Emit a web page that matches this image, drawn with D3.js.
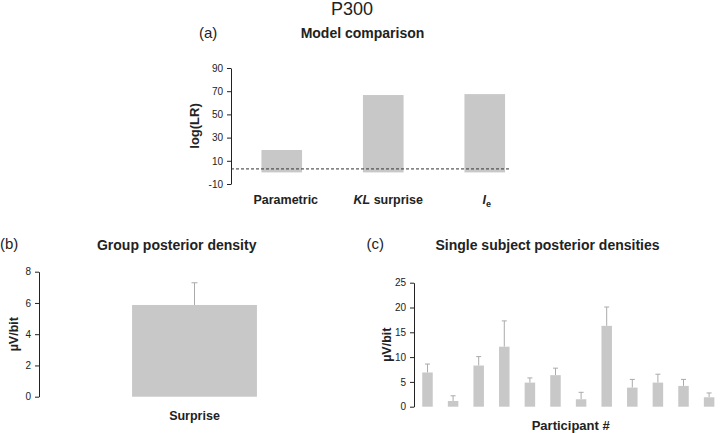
<!DOCTYPE html>
<html>
<head>
<meta charset="utf-8">
<script src="https://cdn.jsdelivr.net/npm/d3@7"></script>
<style>
  html, body { margin: 0; padding: 0; background: #fff; }
  svg { display: block; font-family: "Liberation Sans", Arial, sans-serif; }
  .tick text { font-size: 10px; fill: #222; }
  .domain, .tick line { stroke: #222; }
</style>
</head>
<body>
<svg id="chart" width="720" height="433"></svg>
<script>
// ---- data ----
const modelCategories = ["Parametric", "KL surprise", "Ie"];
const modelLogLR = [19.3, 66.7, 67.5];
const modelThreshold = 3;
const modelTicks = [-10, 10, 30, 50, 70, 90];

const groupCategories = ["Surprise"];
const groupMean = [5.87];
const groupErrTop = [7.29];
const groupTicks = [0, 2, 4, 6, 8];

const participants = ["1","2","3","4","5","6","7","8","9","10","11","12"];
const subjectMean = [6.9, 1.15, 8.3, 12.1, 4.86, 6.36, 1.5, 16.3, 3.85, 4.86, 4.19, 1.9];
const subjectErrTop = [8.6, 2.2, 10.1, 17.3, 5.8, 7.77, 2.9, 20.1, 5.5, 6.55, 5.5, 2.77];
const subjectTicks = [0, 5, 10, 15, 20, 25];

const svg = d3.select("#chart");
const barFill = "#c8c8c8";
const errColor = "#aaaaaa";

function axis(g, scale, ticks, x) {
  const a = d3.axisLeft(scale).tickValues(ticks).tickFormat(d => String(d))
    .tickSize(4).tickSizeOuter(0).tickPadding(4);
  const ga = g.append("g").attr("transform", `translate(${x},0)`).call(a);
  ga.select(".domain").attr("stroke-width", 1);
  return ga;
}

// ---- main title ----
svg.append("text").attr("x", 352).attr("y", 15).attr("text-anchor", "middle")
  .attr("font-size", 18).attr("fill", "#222").text("P300");

// ---- panel (a) ----
{
  const g = svg.append("g");
  const y = d3.scaleLinear().domain([-10, 90]).range([184, 68]);
  const x = d3.scaleBand().domain(modelCategories).range([231, 535.5])
    .paddingInner(0.6).paddingOuter(0.3);
  g.append("text").attr("x", 199).attr("y", 37.5).attr("font-size", 15).attr("fill", "#222").text("(a)");
  g.append("text").attr("x", 362.5).attr("y", 37.5).attr("text-anchor", "middle")
    .attr("font-size", 14).attr("font-weight", "bold").attr("fill", "#222").text("Model comparison");
  g.selectAll("rect.bar").data(modelLogLR).join("rect").attr("class", "bar")
    .attr("x", (d, i) => x(modelCategories[i])).attr("width", x.bandwidth())
    .attr("y", d => y(d)).attr("height", d => y(0) - y(d)).attr("fill", barFill);
  axis(g, y, modelTicks, 231);
  g.append("line").attr("x1", 231).attr("x2", 511)
    .attr("y1", y(modelThreshold)).attr("y2", y(modelThreshold))
    .attr("stroke", "#333").attr("stroke-width", 1).attr("stroke-dasharray", "3,2");
  g.append("text").attr("transform", `translate(199,${y(40)}) rotate(-90)`)
    .attr("text-anchor", "middle").attr("font-size", 13).attr("font-weight", "bold").attr("fill", "#222").text("log(LR)");
  const lab = g.append("g").attr("font-size", 12.5).attr("font-weight", "bold").attr("fill", "#222");
  lab.append("text").attr("x", x.bandwidth() / 2 + x("Parametric") + 4).attr("y", 204).attr("text-anchor", "middle").text("Parametric");
  const t2 = lab.append("text").attr("x", x("KL surprise") + x.bandwidth() / 2 + 5).attr("y", 204).attr("text-anchor", "middle");
  t2.append("tspan").attr("font-style", "italic").text("KL");
  t2.append("tspan").text(" surprise");
  const t3 = lab.append("text").attr("x", x("Ie") + x.bandwidth() / 2 + 2).attr("y", 204).attr("text-anchor", "middle");
  t3.append("tspan").attr("font-style", "italic").text("I");
  t3.append("tspan").attr("font-size", 9).attr("dy", 3).text("e");
}

// ---- panel (b) ----
{
  const g = svg.append("g");
  const y = d3.scaleLinear().domain([0, 8]).range([396.7, 271.7]);
  const x = d3.scaleBand().domain(groupCategories).range([39, 350]).padding(0.427);
  g.append("text").attr("x", 0).attr("y", 249).attr("font-size", 15).attr("fill", "#222").text("(b)");
  g.append("text").attr("x", 176.7).attr("y", 250).attr("text-anchor", "middle")
    .attr("font-size", 14).attr("font-weight", "bold").attr("fill", "#222").text("Group posterior density");
  g.selectAll("line.err").data(groupErrTop).join("line").attr("class", "err")
    .attr("x1", (d, i) => x(groupCategories[i]) + x.bandwidth() / 2)
    .attr("x2", (d, i) => x(groupCategories[i]) + x.bandwidth() / 2)
    .attr("y1", (d, i) => y(groupMean[i])).attr("y2", d => y(d))
    .attr("stroke", errColor).attr("stroke-width", 1);
  g.selectAll("line.cap").data(groupErrTop).join("line").attr("class", "cap")
    .attr("x1", (d, i) => x(groupCategories[i]) + x.bandwidth() / 2 - 3)
    .attr("x2", (d, i) => x(groupCategories[i]) + x.bandwidth() / 2 + 3)
    .attr("y1", d => y(d)).attr("y2", d => y(d))
    .attr("stroke", errColor).attr("stroke-width", 1);
  g.selectAll("rect.bar").data(groupMean).join("rect").attr("class", "bar")
    .attr("x", (d, i) => x(groupCategories[i])).attr("width", x.bandwidth())
    .attr("y", d => y(d)).attr("height", d => y(0) - y(d)).attr("fill", barFill);
  axis(g, y, groupTicks, 39);
  g.append("text").attr("transform", `translate(18,${y(4)}) rotate(-90)`)
    .attr("text-anchor", "middle").attr("font-size", 12.5).attr("font-weight", "bold").attr("fill", "#222").text("µV/bit");
  g.append("text").attr("x", x("Surprise") + x.bandwidth() / 2).attr("y", 420).attr("text-anchor", "middle")
    .attr("font-size", 12.5).attr("font-weight", "bold").attr("fill", "#222").text("Surprise");
}

// ---- panel (c) ----
{
  const g = svg.append("g");
  const y = d3.scaleLinear().domain([0, 25]).range([406.7, 282.7]);
  const x = d3.scaleBand().domain(participants).range([414, 722.6]).paddingInner(0.59).paddingOuter(0.322);
  g.append("text").attr("x", 366.5).attr("y", 249).attr("font-size", 15).attr("fill", "#222").text("(c)");
  g.append("text").attr("x", 547.5).attr("y", 250).attr("text-anchor", "middle")
    .attr("font-size", 14).attr("font-weight", "bold").attr("fill", "#222").text("Single subject posterior densities");
  const cx = i => x(participants[i]) + x.bandwidth() / 2;
  g.selectAll("line.err").data(subjectErrTop).join("line").attr("class", "err")
    .attr("x1", (d, i) => cx(i)).attr("x2", (d, i) => cx(i))
    .attr("y1", (d, i) => y(subjectMean[i])).attr("y2", d => y(d))
    .attr("stroke", errColor).attr("stroke-width", 1);
  g.selectAll("line.cap").data(subjectErrTop).join("line").attr("class", "cap")
    .attr("x1", (d, i) => cx(i) - 2.5).attr("x2", (d, i) => cx(i) + 2.5)
    .attr("y1", d => y(d)).attr("y2", d => y(d))
    .attr("stroke", errColor).attr("stroke-width", 1);
  g.selectAll("rect.bar").data(subjectMean).join("rect").attr("class", "bar")
    .attr("x", (d, i) => x(participants[i])).attr("width", x.bandwidth())
    .attr("y", d => y(d)).attr("height", d => y(0) - y(d)).attr("fill", barFill);
  axis(g, y, subjectTicks, 414);
  g.append("text").attr("transform", `translate(391,${y(12.5)}) rotate(-90)`)
    .attr("text-anchor", "middle").attr("font-size", 12.5).attr("font-weight", "bold").attr("fill", "#222").text("µV/bit");
  g.append("text").attr("x", 570.7).attr("y", 430).attr("text-anchor", "middle")
    .attr("font-size", 13).attr("font-weight", "bold").attr("fill", "#222").text("Participant #");
}
</script>
</body>
</html>
